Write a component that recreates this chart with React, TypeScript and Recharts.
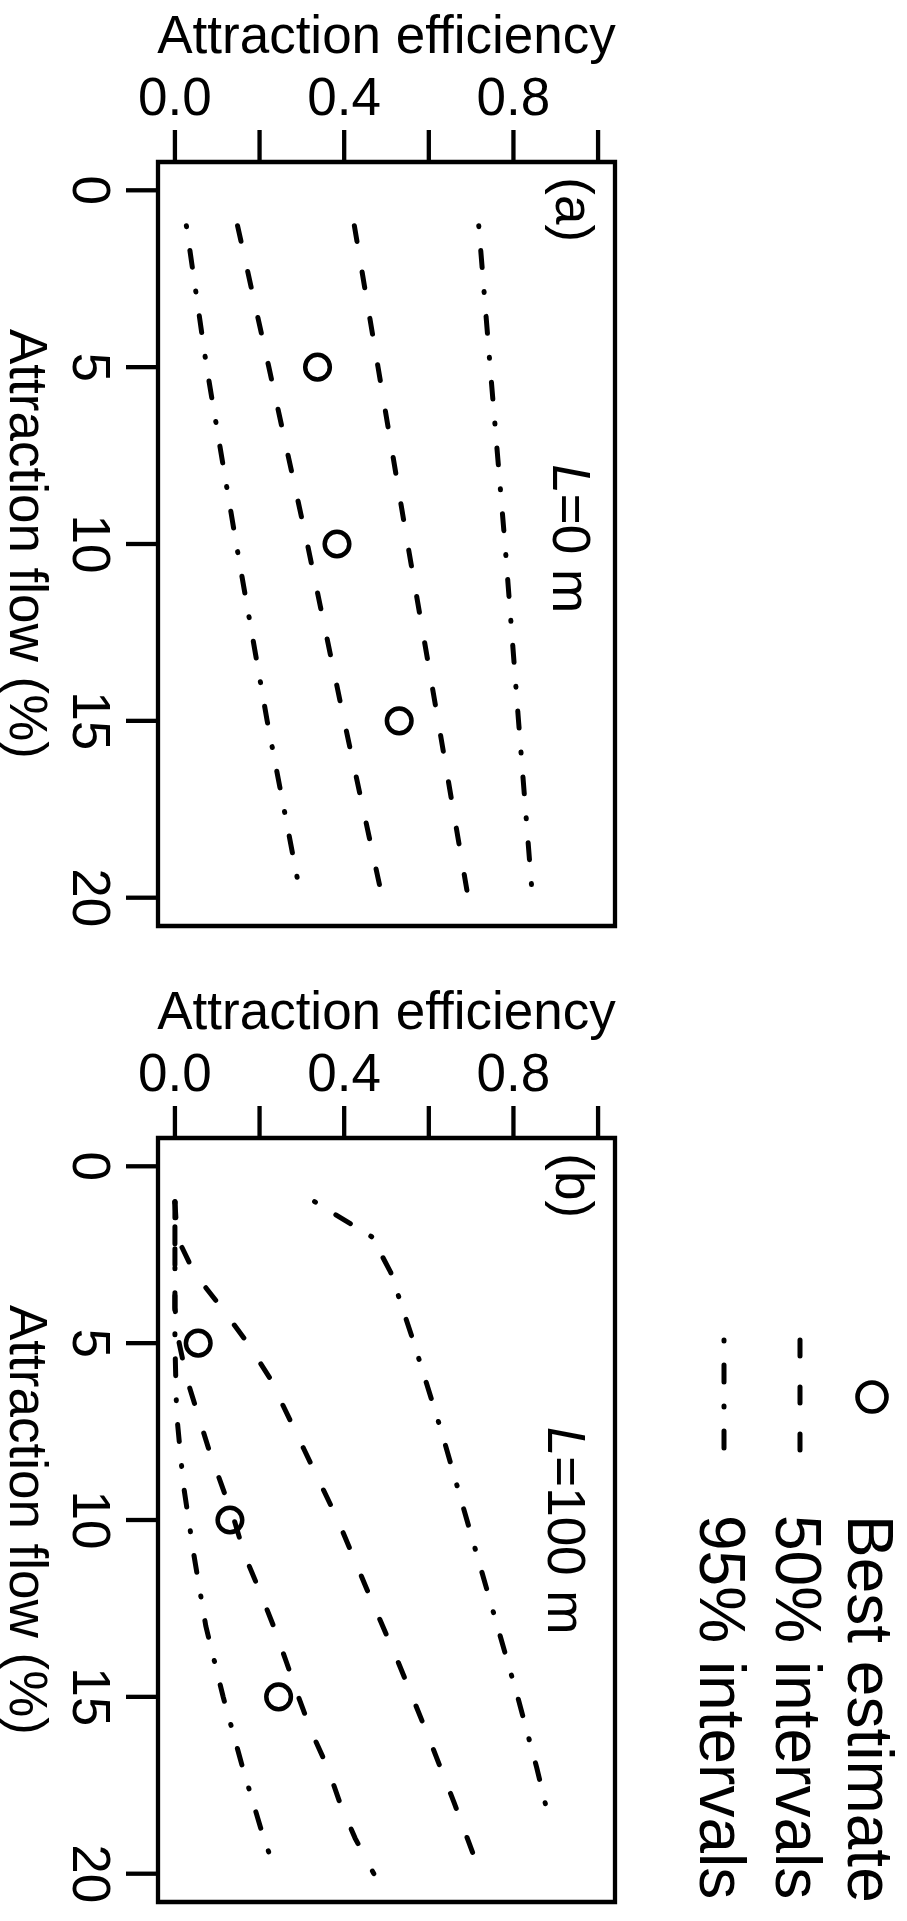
import { ScatterChart, Scatter, XAxis, YAxis, ReferenceArea, ReferenceDot } from "recharts";

const FONT = "'Liberation Sans', Arial, Helvetica, sans-serif";
const INK = "#000";
const FS = 53;

// axes
const effTicks = [0, 0.2, 0.4, 0.6, 0.8, 1];
const effLabels = [0, 0.4, 0.8];
const flowTicks = [0, 5, 10, 15, 20];

// (a) L = 0 m
const flowA = [1, 5, 10, 15, 20];
const lo95A = [0.027, 0.075, 0.145, 0.218, 0.298];
const lo50A = [0.148, 0.222, 0.313, 0.4, 0.49];
const hi50A = [0.424, 0.48, 0.55, 0.622, 0.693];
const hi95A = [0.718, 0.745, 0.78, 0.812, 0.845];
const bestFlow = [5, 10, 15];
const bestA = [0.337, 0.383, 0.53];

// (b) L = 100 m
const flowLo95B = [1, 5, 7, 9, 11, 13, 15, 17, 19, 20];
const lo95B = [0, 0, 0.004, 0.02, 0.045, 0.073, 0.114, 0.16, 0.21, 0.24];
const flowLo50B = [1, 4, 5, 6, 7, 8, 9, 10, 11, 12, 13, 14, 15, 16, 17, 18, 19, 20];
const lo50B = [0, 0, 0.01, 0.028, 0.054, 0.08, 0.11, 0.14, 0.165, 0.2, 0.233, 0.263, 0.292, 0.323, 0.361, 0.39, 0.426, 0.47];
const flowHi50B = [1, 2, 3, 4, 5, 6, 8, 10, 12, 14, 16, 18, 20];
const hi50B = [0, 0.005, 0.045, 0.11, 0.172, 0.225, 0.305, 0.385, 0.455, 0.527, 0.595, 0.66, 0.722];
const flowHi95B = [1, 2, 3, 5, 7.5, 10, 12.5, 15, 17, 18.5];
const hi95B = [0.33, 0.466, 0.51, 0.565, 0.63, 0.69, 0.75, 0.81, 0.855, 0.885];
const bestB = [0.055, 0.13, 0.245];

type Pt = { flow: number; eff: number };
const zip = (flows: number[], effs: number[]): Pt[] =>
  flows.map((f, i) => ({ flow: f, eff: effs[i] }));

const DASHED = "16 31";
const DOTDASH = "1 24 17 24";
const LW = 5;

type Line = { key: string; data: Pt[]; dash: string };

const linesA: Line[] = [
  { key: "lo95", data: zip(flowA, lo95A), dash: DOTDASH },
  { key: "lo50", data: zip(flowA, lo50A), dash: DASHED },
  { key: "hi50", data: zip(flowA, hi50A), dash: DASHED },
  { key: "hi95", data: zip(flowA, hi95A), dash: DOTDASH },
];
const linesB: Line[] = [
  { key: "lo95", data: zip(flowLo95B, lo95B), dash: DOTDASH },
  { key: "lo50", data: zip(flowLo50B, lo50B), dash: DASHED },
  { key: "hi50", data: zip(flowHi50B, hi50B), dash: DASHED },
  { key: "hi95", data: zip(flowHi95B, hi95B), dash: DOTDASH },
];

const legendItems = [
  { label: "Best estimate", kind: "point", x: 848 },
  { label: "50% intervals", kind: DASHED, x: 776 },
  { label: "95% intervals", kind: DOTDASH, x: 700 },
];

const txt = { fontFamily: FONT, fontSize: FS, fill: INK };

function rotated(x: number, y: number, children: any, size = FS) {
  return (
    <text x={x} y={y} transform={`rotate(90 ${x} ${y})`} textAnchor="middle" {...txt} fontSize={size}>
      {children}
    </text>
  );
}

const EffTick = (props: any) => {
  const v = props.payload?.value;
  if (!effLabels.some((l) => Math.abs(l - v) < 1e-9)) return <g />;
  return (
    <text x={props.x} y={115} textAnchor="middle" {...txt}>
      {v.toFixed(1)}
    </text>
  );
};

const FlowTick = (props: any) => rotated(73, props.y, props.payload?.value);

const Ring = (props: any) => (
  <circle cx={props.cx} cy={props.cy} r={12.3} fill="none" stroke={INK} strokeWidth={4.5} />
);

const dotLabel = (content: any) => (props: any) => {
  const vb = props.viewBox;
  if (!vb) return null;
  return rotated(vb.x + vb.width / 2, vb.y + vb.height / 2, content);
};

function Panel({ top, height, tag, lValue, lAt, lines, best }: any) {
  return (
    <div style={{ position: "absolute", left: 0, top }}>
      <ScatterChart
        width={907}
        height={height}
        margin={{ top: 161, left: 157, right: 292, bottom: height - 926 }}
      >
        <XAxis
          type="number"
          dataKey="eff"
          orientation="top"
          domain={[-0.04, 1.04]}
          allowDataOverflow
          ticks={effTicks}
          interval={0}
          height={1}
          tickSize={32}
          axisLine={false}
          tickLine={{ stroke: INK, strokeWidth: 4.3 }}
          tick={EffTick}
          label={{
            content: () => (
              <text x={386.5} y={53} textAnchor="middle" {...txt}>
                Attraction efficiency
              </text>
            ),
          }}
        />
        <YAxis
          type="number"
          dataKey="flow"
          domain={[-0.8, 20.8]}
          reversed
          allowDataOverflow
          ticks={flowTicks}
          interval={0}
          width={1}
          tickSize={32}
          axisLine={false}
          tickLine={{ stroke: INK, strokeWidth: 4.3 }}
          tick={FlowTick}
          label={{ content: () => rotated(10, 544, "Attraction flow (%)") }}
        />
        <ReferenceArea
          x1={-0.04}
          x2={1.04}
          y1={-0.8}
          y2={20.8}
          fill="none"
          stroke={INK}
          strokeWidth={4.3}
          ifOverflow="visible"
        />
        {lines.map((s: Line) => (
          <Scatter
            key={s.key}
            name={s.key}
            data={s.data}
            fill={INK}
            line={{ stroke: INK, strokeWidth: LW, strokeDasharray: s.dash, strokeLinecap: "round" }}
            shape={() => <g />}
            isAnimationActive={false}
          />
        ))}
        <Scatter name="best" data={best} shape={Ring} isAnimationActive={false} />
        <ReferenceDot
          x={0.9}
          y={0.55}
          r={1}
          fill="none"
          stroke="none"
          ifOverflow="visible"
          label={{ content: dotLabel(tag) }}
        />
        <ReferenceDot
          x={lAt[0]}
          y={lAt[1]}
          r={1}
          fill="none"
          stroke="none"
          ifOverflow="visible"
          label={{
            content: dotLabel(
              <>
                <tspan fontStyle="italic">L</tspan>={lValue} m
              </>
            ),
          }}
        />
      </ScatterChart>
    </div>
  );
}

function Legend() {
  return (
    <svg
      width={907}
      height={1921}
      style={{ position: "absolute", left: 0, top: 0, pointerEvents: "none" }}
    >
      {legendItems.map((it) => {
        const sx = it.x + 24;
        return (
          <g key={it.label}>
            {it.kind === "point" ? (
              <circle cx={sx} cy={1397} r={14.5} fill="none" stroke={INK} strokeWidth={4.6} />
            ) : (
              <line
                x1={sx}
                x2={sx}
                y1={1340}
                y2={1455}
                stroke={INK}
                strokeWidth={LW}
                strokeDasharray={it.kind}
                strokeLinecap="round"
              />
            )}
            <text x={it.x} y={1515} transform={`rotate(90 ${it.x} 1515)`} {...txt} fontSize={64}>
              {it.label}
            </text>
          </g>
        );
      })}
    </svg>
  );
}

export default function App() {
  return (
    <div style={{ position: "absolute", left: 0, top: 0, width: 907, height: 1921, background: "#fff" }}>
      <Panel
        top={0}
        height={975}
        tag="(a)"
        lValue="0"
        lAt={[0.894, 9.85]}
        lines={linesA}
        best={zip(bestFlow, bestA)}
      />
      <Panel
        top={976}
        height={945}
        tag="(b)"
        lValue="100"
        lAt={[0.882, 10.3]}
        lines={linesB}
        best={zip(bestFlow, bestB)}
      />
      <Legend />
    </div>
  );
}
